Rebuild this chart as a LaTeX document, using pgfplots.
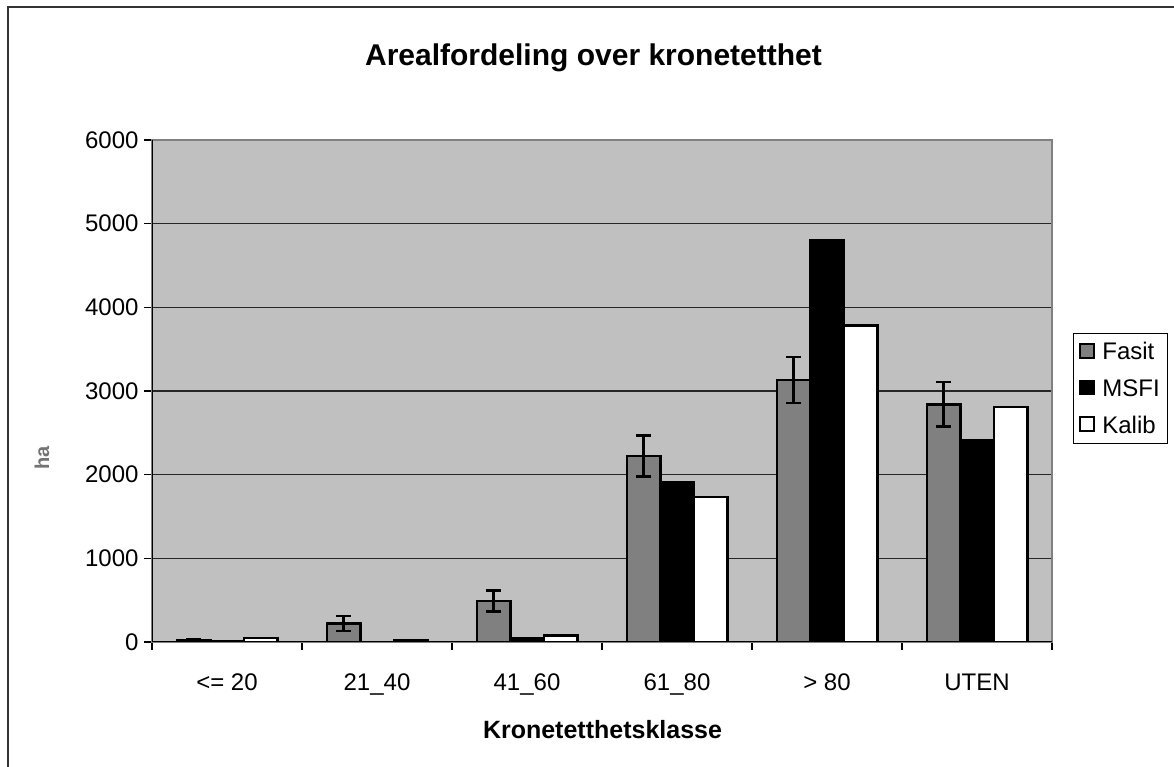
\documentclass[border=0pt]{standalone}
\usepackage{fontspec}
\setmainfont{Liberation Sans}
\usepackage{pgfplots}
\usepackage{pgfplotstable}
\pgfplotsset{compat=1.18}
\definecolor{plotbg}{RGB}{192,192,192}
\definecolor{fasitc}{RGB}{128,128,128}
\pgfplotstableread{
x fasit err msfi kalib
0 17 20 5 50
1 219 90 0 25
2 490 125 48 80
3 2223 245 1904 1733
4 3131 273 4796 3785
5 2841 265 2406 2809
}\data
\begin{document}
\begin{tikzpicture}[x=1pt,y=1pt]
\useasboundingbox (0,0) rectangle (1174,767);
\fill[white] (0,0) rectangle (1174,767);
\draw[line width=2pt, black!80] (8,-5) -- (8,760) -- (1180,760);
\node[font=\bfseries\fontsize{30}{36}\selectfont, anchor=base] at (593.5,701.3) {Arealfordeling over kronetetthet};
\node[font=\bfseries\fontsize{25}{30}\selectfont, anchor=base] at (602.5,28) {Kronetetthetsklasse};
\node[font=\bfseries\fontsize{20}{24}\selectfont, text=black!55, rotate=90] at (42,309) {ha};
\begin{axis}[
  at={(152pt,125pt)}, anchor=south west,
  scale only axis, width=900pt, height=502pt,
  xmin=-0.5, xmax=5.5, ymin=0, ymax=6000,
  ybar=0pt, bar width=33.5pt,
  axis background/.style={fill=plotbg},
  axis line style={draw=fasitc, line width=2pt},
  xtick={0,...,5},
  xticklabels={{<= 20},{21\_40},{41\_60},{61\_80},{> 80},{UTEN}},
  major x tick style={draw=none},
  minor xtick={-0.5,0.5,...,5.5},
  minor x tick style={black, line width=1.3pt},
  minor tick length=8pt,
  ytick={0,1000,...,6000},
  y tick style={black, line width=1.3pt},
  major tick length=8pt,
  tick align=outside,
  tick pos=left,
  ymajorgrids,
  major grid style={black!85, line width=1.3pt},
  /pgf/number format/assume math mode=true,
  /pgf/number format/1000 sep={},
  ticklabel style={font=\fontsize{24}{28}\selectfont},
  yticklabel style={xshift=-2pt},
  xticklabel style={yshift=-20pt},
  legend style={at={(rel axis cs:1.0233,0.6155)}, anchor=north west,
    draw=black, line width=1pt, fill=white,
    font=\fontsize{24}{28}\selectfont,
    inner xsep=6pt, inner ysep=7pt,
    row sep=14pt},
  legend cell align=left,
  legend image code/.code={\draw[#1, line width=1.8pt] (0pt,-6pt) rectangle (14pt,8pt);
    \path[draw=none, fill=none] (0pt,0pt) -- (20pt,0pt);},
]
\addplot[fill=fasitc, draw=black, line width=2.5pt,
  error bars/.cd, y dir=both, y explicit,
  error bar style={black, line width=2.5pt},
  error mark options={rotate=90, mark size=7.5pt, line width=2.5pt, black}]
  table[x=x, y=fasit, y error=err] {\data};
\addplot[fill=black, draw=black, line width=2.5pt] table[x=x, y=msfi] {\data};
\addplot[fill=white, draw=black, line width=2.5pt] table[x=x, y=kalib] {\data};
\legend{Fasit, MSFI, Kalib}
\draw[black, line width=2pt] (rel axis cs:0,1) -- (rel axis cs:0,0) -- (rel axis cs:1,0);
\end{axis}
\end{tikzpicture}
\end{document}
